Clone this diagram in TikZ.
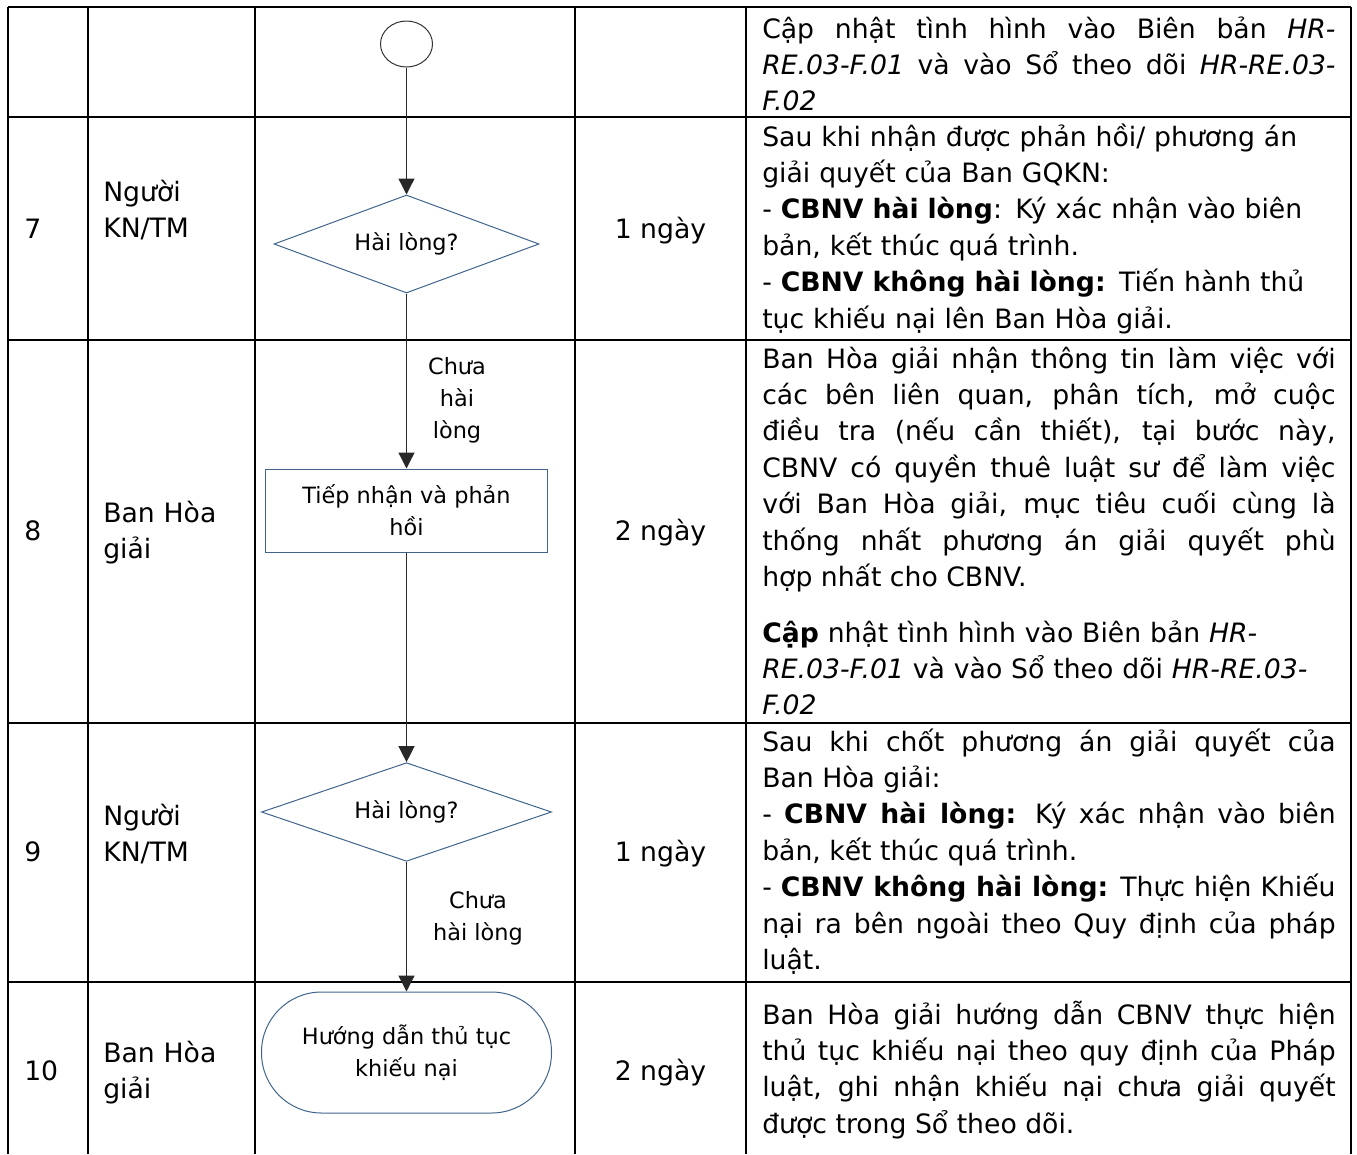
\documentclass[tikz,border=0pt]{standalone}
\usepackage{fontspec}
\setmainfont{DejaVu Sans}
\usetikzlibrary{shapes.geometric,arrows.meta}
\definecolor{shapeline}{RGB}{65,100,140}
\definecolor{arrowgray}{RGB}{40,40,40}
\newcommand\cellfont{\fontsize{20}{27.3}\selectfont\lineskiplimit=-20pt\tolerance=10000\hbadness=10000}
\newcommand\chartfont{\fontsize{16.8}{24}\selectfont\lineskiplimit=-20pt}
\tikzset{
  tablerule/.style={line width=1.5pt},
  cell/.style={anchor=base west,inner sep=0pt,font=\cellfont},
  actor/.style={cell,text width=120pt,align=left},
  timecell/.style={anchor=base,inner sep=0pt,font=\cellfont},
  note/.style={cell,text width=430pt,align=justify},
  raggednote/.style={cell,text width=430pt,align=left},
  startcircle/.style={ellipse,draw=black!80,line width=0.75pt,minimum width=39pt,minimum height=34.5pt,inner sep=0pt},
  decision/.style={diamond,aspect=3,draw=shapeline,line width=0.75pt,inner sep=0pt,font=\chartfont},
  process/.style={rectangle,draw=shapeline,line width=0.75pt,inner sep=0pt,align=center,font=\chartfont},
  terminal/.style={process,rounded corners=45pt},
  chartlabel/.style={inner sep=0pt,align=center,font=\chartfont},
  flowarrow/.style={-{Triangle[width=12pt,length=12pt]},line width=1pt,draw=arrowgray,fill=black}
}
\begin{document}
\begin{tikzpicture}[x=0.75pt,y=-0.75pt]
  \useasboundingbox (0,0) rectangle (1357,1154);
  \foreach \x in {8,88,255,575,746,1351}
    \draw[tablerule] (\x,7) -- (\x,1154);
  \foreach \y in {7,117,340,723,982}
    \draw[tablerule] (8,\y) -- (1351,\y);

  \node[cell] (s7) at (24,238) {7};
  \node[cell] (s8) at (24,540) {8};
  \node[cell] (s9) at (24,861) {9};
  \node[cell] (s10) at (24,1080) {10};

  \node[actor] (a7) at (103,201) {Người\\KN/TM};
  \node[actor] (a8) at (103,522) {Ban Hòa\\giải};
  \node[actor] (a9) at (103,825) {Người\\KN/TM};
  \node[actor] (a10) at (103,1062) {Ban Hòa\\giải};

  \node[timecell] (t7) at (660.5,238) {1 ngày};
  \node[timecell] (t8) at (660.5,540) {2 ngày};
  \node[timecell] (t9) at (660.5,861) {1 ngày};
  \node[timecell] (t10) at (660.5,1080) {2 ngày};

  \node[note] (d6) at (762,38) {Cập nhật tình hình vào Biên bản \textit{HR-}\linebreak
    \textit{RE.03-F.01} và vào Sổ theo dõi \textit{HR-RE.03-}\linebreak
    \textit{F.02}};
  \node[raggednote] (d7) at (762,146) {Sau khi nhận được phản hồi/ phương án\\
    giải quyết của Ban GQKN:\\
    - \textbf{CBNV hài lòng}: Ký xác nhận vào biên\\
    bản, kết thúc quá trình.\\
    - \textbf{CBNV không hài lòng:} Tiến hành thủ\\
    tục khiếu nại lên Ban Hòa giải.};
  \node[note] (d8) at (762,368) {Ban Hòa giải nhận thông tin làm việc với\linebreak
    các bên liên quan, phân tích, mở cuộc\linebreak
    điều tra (nếu cần thiết), tại bước này,\linebreak
    CBNV có quyền thuê luật sư để làm việc\linebreak
    với Ban Hòa giải, mục tiêu cuối cùng là\linebreak
    thống nhất phương án giải quyết phù\linebreak
    hợp nhất cho CBNV.};
  \node[raggednote] (d8b) at (762,642) {\textbf{Cập} nhật tình hình vào Biên bản \textit{HR-}\\
    \textit{RE.03-F.01} và vào Sổ theo dõi \textit{HR-RE.03-}\\
    \textit{F.02}};
  \node[note] (d9) at (762,751) {Sau khi chốt phương án giải quyết của\linebreak
    Ban Hòa giải:\\
    - \textbf{CBNV hài lòng:} Ký xác nhận vào biên\linebreak
    bản, kết thúc quá trình.\\
    - \textbf{CBNV không hài lòng:} Thực hiện Khiếu\linebreak
    nại ra bên ngoài theo Quy định của pháp\linebreak
    luật.};
  \node[note] (d10) at (762,1024) {Ban Hòa giải hướng dẫn CBNV thực hiện\linebreak
    thủ tục khiếu nại theo quy định của Pháp\linebreak
    luật, ghi nhận khiếu nại chưa giải quyết\linebreak
    được trong Sổ theo dõi.};

  \node[startcircle] (start) at (406.5,44) {};
  \node[decision,minimum width=198.75pt,minimum height=73.5pt] (ask1) at (406.5,244) {Hài lòng?};
  \node[process,minimum width=211.5pt,minimum height=62.25pt] (receive) at (406.5,510.5) {Tiếp nhận và phản\\hồi};
  \node[decision,minimum width=217.5pt,minimum height=74pt] (ask2) at (406.5,812) {Hài lòng?};
  \node[terminal,minimum width=217.5pt,minimum height=90.75pt] (guide) at (406.5,1052.5) {Hướng dẫn thủ tục\\khiếu nại};

  \node[chartlabel] (no1) at (457,400) {Chưa\\hài\\lòng};
  \node[chartlabel] (no2) at (478,918) {Chưa\\hài lòng};

  \begin{scope}[flowarrow]
    \draw (start) to (ask1);
    \draw (ask1) to (receive);
    \draw (receive) to (ask2);
    \draw (ask2) to (guide);
  \end{scope}
\end{tikzpicture}
\end{document}
